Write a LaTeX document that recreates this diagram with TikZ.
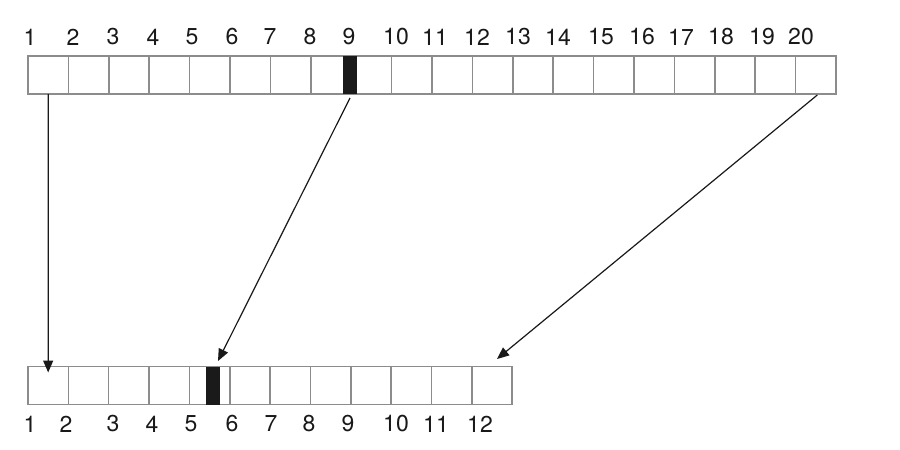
\documentclass[tikz,border=0pt]{standalone}
\usepackage{fontspec}
\setmainfont{TeX Gyre Heros}
\usetikzlibrary{arrows.meta}
\definecolor{cellgray}{HTML}{8C8C8C}
\definecolor{barblack}{HTML}{1A1A1A}
\tikzset{
  cell/.style={draw=cellgray, line width=1.5pt, minimum width=40.4pt, minimum height=38pt, inner sep=0pt, outer sep=0pt},
  bar/.style={fill=barblack, draw=none, minimum width=14pt, minimum height=38pt, inner sep=0pt, outer sep=0pt},
  lbl/.style={font=\fontsize{23pt}{25pt}\selectfont, inner sep=0pt, text=black!90},
  conn/.style={draw=black!90, line width=1.2pt, -{Triangle[length=12pt,width=10pt]}}
}
\begin{document}
\begin{tikzpicture}[x=1pt,y=-1pt]
\useasboundingbox (0,0) rectangle (900,450);
\fill[white] (0,0) rectangle (900,450);
% top row
\foreach \i in {1,...,20} {
  \node[cell] (t\i) at ({28+40.4*(\i-0.5)},75) {};
}
\node[bar] (tm) at (350,75) {};
% bottom row
\foreach \i in {1,...,12} {
  \node[cell] (b\i) at ({28+40.35*(\i-0.5)},385.5) {};
}
\node[bar] (bm) at (212.5,385.5) {};
% top labels
\foreach \x/\t in {30/1,73/2,113/3,153/4,192/5,232/6,270/7,310/8,349/9,396/10,435/11,477/12,518/13,558/14,601/15,642/16,681/17,721/18,762/19,801/20} {
  \node[lbl] (tl\t) at (\x,37) {\t};
}
% bottom labels
\foreach \x/\t in {30/1,66/2,113/3,152/4,191/5,232/6,271/7,309/8,348/9,396/10,436/11,480/12} {
  \node[lbl] (bl\t) at (\x,424) {\t};
}
% connectors
\coordinate (e2) at (218,361);
\coordinate (e3) at (497,359);
\draw[conn] (t1.south) -- ([yshift=-6pt]b1.north);
\draw[conn] ([yshift=-4pt]tm.south) -- (e2);
\draw[conn] ([xshift=1.5pt,yshift=-1pt]t20.south) -- (e3);
\end{tikzpicture}
\end{document}
